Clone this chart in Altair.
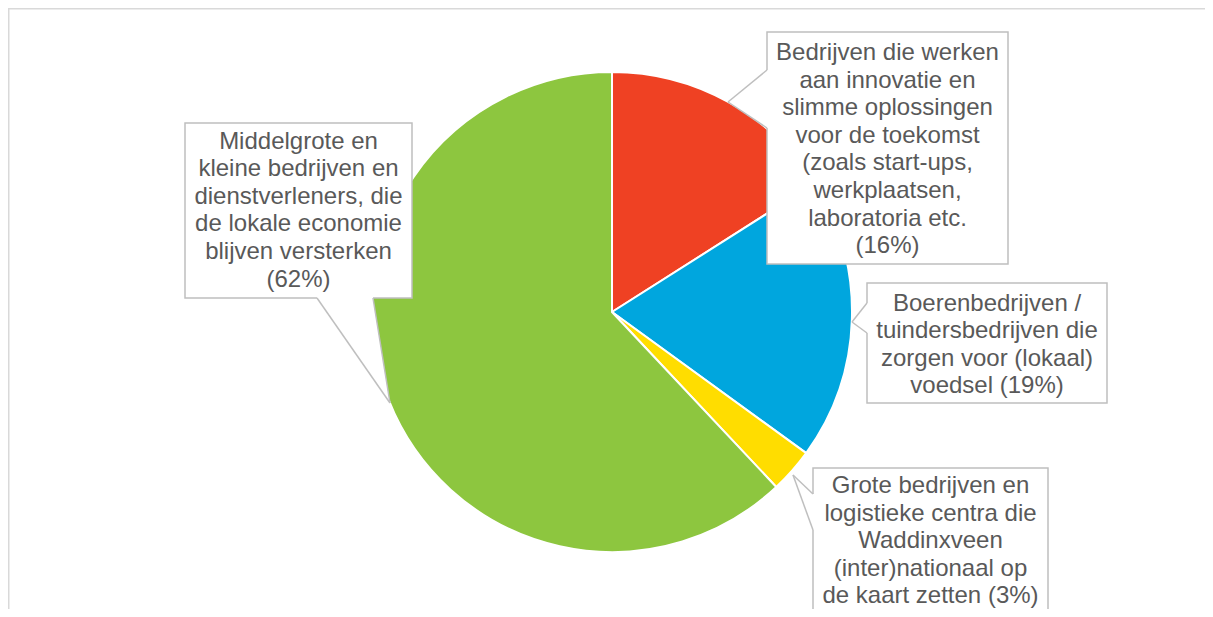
import altair as alt
import pandas as pd

# ---------------- data ----------------
categories = [
    "Innovatie en slimme oplossingen",
    "Boeren- en tuindersbedrijven",
    "Grote bedrijven en logistieke centra",
    "Middelgrote en kleine bedrijven",
]
values = [16, 19, 3, 62]
label_lines = [
    ["Bedrijven die werken", "aan innovatie en", "slimme oplossingen", "voor de toekomst",
     "(zoals start-ups,", "werkplaatsen,", "laboratoria etc.", "({pct}%)"],
    ["Boerenbedrijven /", "tuindersbedrijven die", "zorgen voor (lokaal)", "voedsel ({pct}%)"],
    ["Grote bedrijven en", "logistieke centra die", "Waddinxveen", "(inter)nationaal op",
     "de kaart zetten ({pct}%)"],
    ["Middelgrote en", "kleine bedrijven en", "dienstverleners, die", "de lokale economie",
     "blijven versterken", "({pct}%)"],
]

# ---------------- style / layout ----------------
colors = ["#EF4123", "#00A6DE", "#FFDD00", "#8DC63F"]
TEXT_COLOR = "#595959"
BOX_STROKE = "#BFBFBF"
FRAME = "#D9D9D9"
FONT = "Liberation Sans"
FONT_SIZE = 24
LINE_H = 27.6

W, H = 1197, 601
OX, OY = 8, 8  # page offset of the chart origin
CX, CY, R = 612, 312, 240

# callout boxes (page pixels): x1, x2, y1, y2
boxes = [(767, 1008, 32, 264), (867, 1107, 283, 403), (813, 1048, 468, 640), (185, 412, 123, 298)]
text_first_y = [53, 303.5, 486, 141.5]
# pointer: tip, attach1, attach2
pointers = [
    ((728, 102), (767, 70), (767, 128)),
    ((852, 322), (867, 303), (867, 333)),
    ((793, 475), (813, 494), (813, 530)),
    ((390, 403), (317, 298), (373, 298)),
]

xs = alt.Scale(domain=[OX, OX + W], nice=False, zero=False)
ys = alt.Scale(domain=[OY + H, OY], nice=False, zero=False)


def X(f):
    return alt.X(f, type="quantitative", scale=xs, axis=None)


def Y(f):
    return alt.Y(f, type="quantitative", scale=ys, axis=None, stack=None)


# ---------------- tables ----------------
pie_df = pd.DataFrame({"cat": categories, "value": values, "idx": range(len(values))})

box_df = pd.DataFrame([
    {"x1": b[0], "x2": b[1], "y1": b[2], "y2": b[3]} for b in boxes
])

tri_rows = []
for k, (a, b, c) in enumerate(pointers):
    pts = [a, b, c]
    edges = [(a, b), (b, c), (c, a)]
    for xv in sorted(set(p[0] for p in pts)):
        ys_hit = []
        for (p, q) in edges:
            if p[0] == q[0]:
                if p[0] == xv:
                    ys_hit += [p[1], q[1]]
            else:
                lo, hi = min(p[0], q[0]), max(p[0], q[0])
                if lo <= xv <= hi:
                    t = (xv - p[0]) / (q[0] - p[0])
                    ys_hit.append(p[1] + t * (q[1] - p[1]))
        tri_rows.append({"id": k, "x": xv, "ya": min(ys_hit), "yb": max(ys_hit)})
tri_df = pd.DataFrame(tri_rows)

cover_df = pd.DataFrame([
    {"x1": b[0], "y1": b[1], "x2": c[0], "y2": c[1]} for (a, b, c) in pointers
])
side_rows = []
for (a, b, c) in pointers:
    side_rows.append({"x1": a[0], "y1": a[1], "x2": b[0], "y2": b[1]})
    side_rows.append({"x1": a[0], "y1": a[1], "x2": c[0], "y2": c[1]})
side_df = pd.DataFrame(side_rows)

text_rows = []
for k, lines in enumerate(label_lines):
    cx = (boxes[k][0] + boxes[k][1]) / 2
    for i, ln in enumerate(lines):
        text_rows.append({"tx": cx, "ty": text_first_y[k] + i * LINE_H,
                          "t": ln.format(pct=values[k])})
text_df = pd.DataFrame(text_rows)

# ---------------- layers ----------------
frame_top = alt.Chart(pd.DataFrame({"a": [0]})).mark_rule(color=FRAME, strokeWidth=1.5).encode(
    x=alt.value(0), x2=alt.value(W), y=alt.value(0.75))
frame_left = alt.Chart(pd.DataFrame({"a": [0]})).mark_rule(color=FRAME, strokeWidth=1.5).encode(
    x=alt.value(0.75), y=alt.value(0), y2=alt.value(H))

pie = alt.Chart(pie_df).mark_arc(outerRadius=R, stroke="white", strokeWidth=2).encode(
    theta=alt.Theta("value:Q", stack=True),
    order=alt.Order("idx:Q"),
    color=alt.Color("cat:N", scale=alt.Scale(domain=categories, range=colors), legend=None),
    x=alt.value(CX - OX),
    y=alt.value(CY - OY),
)

rects = alt.Chart(box_df).mark_rect(fill="white", stroke=BOX_STROKE, strokeWidth=1.5).encode(
    x=X("x1"), x2="x2", y=Y("y1"), y2="y2")

tris = alt.Chart(tri_df).mark_area(fill="white", opacity=1, orient="vertical", interpolate="linear").encode(
    x=X("x"), y=Y("ya"), y2="yb", detail="id:N")

covers = alt.Chart(cover_df).mark_rule(color="white", strokeWidth=3).encode(
    x=X("x1"), y=Y("y1"), x2="x2", y2="y2")

sides = alt.Chart(side_df).mark_rule(color=BOX_STROKE, strokeWidth=1.5).encode(
    x=X("x1"), y=Y("y1"), x2="x2", y2="y2")

texts = alt.Chart(text_df).mark_text(font=FONT, fontSize=FONT_SIZE, color=TEXT_COLOR,
                                     align="center", baseline="middle").encode(
    x=X("tx"), y=Y("ty"), text="t:N")

chart = alt.layer(frame_top, frame_left, pie, rects, tris, covers, sides, texts).properties(
    width=W, height=H, autosize=alt.AutoSizeParams(type="none"), padding=0,
    background="white",
).configure_view(strokeWidth=0)

chart.save("out.html", embed_options={"renderer": "svg", "actions": False})
